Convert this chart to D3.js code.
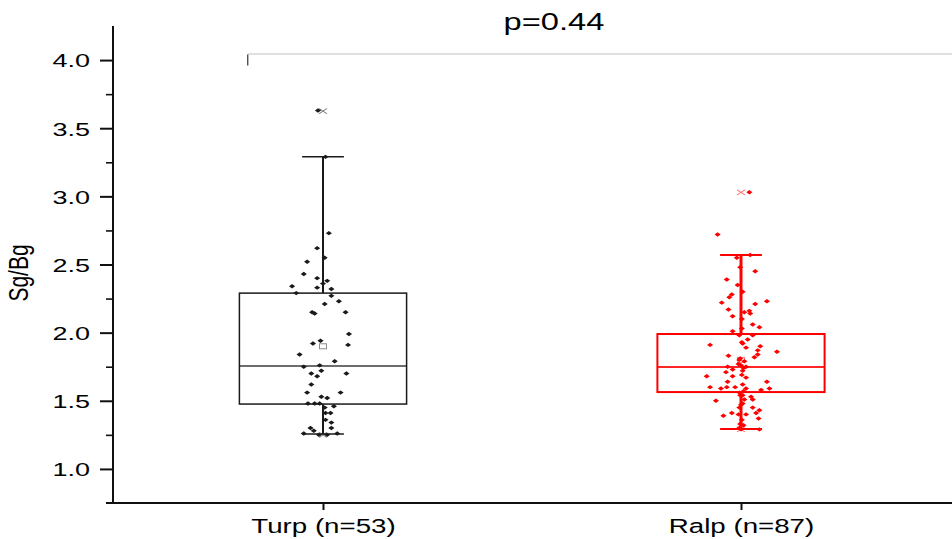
<!DOCTYPE html>
<html>
<head>
<meta charset="utf-8">
<script src="https://cdn.jsdelivr.net/npm/d3@7"></script>
<style>
  html, body { margin: 0; padding: 0; background: #fff; }
  svg { display: block; }
  text { font-family: "Liberation Sans", Arial, sans-serif; fill: #000; }
</style>
</head>
<body>
<div class="display"></div>
<script>
// groups on the x axis
const categories = ["Turp (n=53)", "Ralp (n=87)"];

// y axis ticks
const majorTicks = [1.0, 1.5, 2.0, 2.5, 3.0, 3.5, 4.0];
const minorTicks = [1.25, 1.75, 2.25, 2.75, 3.25, 3.75];

// box statistics (Turp, Ralp)
const q1Values = [1.476, 1.564];
const medianValues = [1.755, 1.748];
const q3Values = [2.29, 1.99];
const whiskerLow = [1.256, 1.293];
const whiskerHigh = [3.29, 2.569];
const meanValues = [1.90, 1.80];
const minValues = [1.25, 1.29];
const maxValues = [3.626, 3.029];

// p value of the comparison
const pLabel = "p=0.44";

// Turp raw points and their jitter (fraction of half box width)
const turpValues = [2.73, 2.62, 2.55, 2.52, 2.43, 2.40, 2.38, 2.36, 2.34, 2.33,
  2.32, 2.29, 2.27, 2.23, 2.21, 2.15, 2.15, 2.14, 1.99, 1.94,
  1.92, 1.91, 1.84, 1.79, 1.75, 1.76, 1.72, 1.70, 1.68, 1.70,
  1.62, 1.56, 1.56, 1.53, 1.52, 1.48, 1.48, 1.48, 1.46, 1.45,
  1.41, 1.41, 1.36, 1.34, 1.30, 1.30, 1.28, 1.26, 1.25, 1.26,
  3.29, 3.63, 1.25];
const turpJitter = [0.07, -0.07, 0.02, -0.19, -0.23, -0.07, 0.05, 0.00, -0.37, -0.07,
  0.10, -0.32, 0.10, 0.19, 0.02, 0.27, -0.13, -0.10, 0.31, -0.03,
  -0.12, 0.30, -0.28, 0.14, -0.23, -0.04, -0.02, -0.14, -0.07, 0.28,
  -0.14, -0.19, 0.21, -0.02, 0.05, -0.18, -0.10, -0.04, 0.13, 0.02,
  0.03, 0.09, 0.03, 0.10, 0.10, -0.15, -0.11, -0.23, 0.05, 0.17,
  0.03, -0.06, -0.05];

// Ralp raw points and their jitter
const ralpValues = [2.72, 2.57, 2.55, 2.45, 2.39, 2.35, 2.28, 2.26, 2.22, 2.21,
  2.23, 2.17, 2.15, 2.16, 2.14, 2.12, 2.06, 2.04, 2.03,
  2.01, 1.98, 1.95, 1.93, 1.91, 1.89, 1.90, 1.87, 1.86, 1.84,
  1.83, 1.82, 1.81, 1.79, 1.77, 1.75, 1.76, 1.75, 1.71, 1.73,
  1.72, 1.68, 1.68, 1.67, 1.64, 1.64, 1.60, 1.59, 1.60, 1.60,
  1.59, 1.58, 1.59, 1.56, 1.54, 1.53, 1.50, 1.51, 1.51, 1.47,
  1.45, 1.43, 1.41, 1.39, 1.41, 1.40, 1.40, 1.37, 1.33, 1.32,
  1.29, 1.29, 3.03,
  1.36, 1.45, 1.48, 1.54, 1.62, 1.69, 1.80, 2.10, 2.30, 2.48,
  1.30, 1.57, 1.74, 1.98, 1.92];
const ralpJitter = [-0.28, 0.11, -0.05, 0.17, -0.17, -0.04, -0.11, -0.14, -0.23, 0.17,
  0.31, -0.15, 0.04, 0.10, 0.11, -0.10, 0.14, 0.22, 0.01,
  -0.10, 0.14, 0.08, 0.01, -0.37, 0.06, 0.23, 0.20, 0.43, 0.20,
  -0.15, 0.16, -0.01, 0.04, -0.03, -0.16, 0.00, 0.06, -0.18, -0.10,
  0.02, -0.41, -0.10, 0.06, -0.16, 0.31, -0.37, -0.24, -0.17, -0.07,
  0.06, 0.24, 0.34, -0.02, 0.02, 0.12, -0.30, 0.04, 0.14, 0.00,
  0.14, 0.22, 0.18, -0.21, -0.11, -0.03, 0.06, 0.21, -0.01, 0.03,
  0.00, 0.22, 0.10,
  0.01, -0.02, 0.02, -0.01, 0.02, 0.01, -0.02, 0.01, 0.02, -0.01,
  -0.02, 0.03, 0.03, -0.02, 0.02];

const colors = ["#1a1a1a", "#ff0000"];

// the source picture is squeezed sideways, so text is stretched to match
const stretch = 1.42;

const width = 952, height = 539;
const margin = { top: 26, right: 0, bottom: 36, left: 113 };

const svg = d3.select(".display")
  .append("svg")
  .attr("width", width)
  .attr("height", height);

// scales
const xScale = d3.scalePoint()
  .domain(categories)
  .range([margin.left + 1, width - 2])
  .padding(0.5);

const yScale = d3.scaleLinear()
  .domain([0.75, 4.25])
  .range([height - margin.bottom, margin.top]);

const boxWidth = xScale.step() * 0.4;
const capWidth = boxWidth * 0.25;

// y axis, major ticks with labels
const yAxis = d3.axisLeft(yScale)
  .tickValues(majorTicks)
  .tickSize(13)
  .tickSizeOuter(0)
  .tickFormat(d3.format(".1f"));
const yAxisGroup = svg.append("g")
  .attr("transform", `translate(${margin.left},0)`)
  .call(yAxis);
yAxisGroup.select(".domain").remove();
yAxisGroup.selectAll("line").attr("stroke", "#111").attr("stroke-width", 2);
yAxisGroup.selectAll("text")
  .attr("x", 0)
  .attr("dy", "0.36em")
  .attr("transform", `translate(-23,0) scale(${stretch},1)`)
  .style("font-size", "19px")
  .style("font-family", "Liberation Sans, Arial, sans-serif")
  .attr("fill", "#000");

// y axis minor ticks
const yMinor = svg.append("g")
  .attr("transform", `translate(${margin.left},0)`)
  .call(d3.axisLeft(yScale).tickValues(minorTicks).tickSize(7).tickSizeOuter(0).tickFormat(""));
yMinor.select(".domain").remove();
yMinor.selectAll("line").attr("stroke", "#111").attr("stroke-width", 1.6);

// x axis ticks and labels
const xAxis = d3.axisBottom(xScale).tickSize(7).tickSizeOuter(0);
const xAxisGroup = svg.append("g")
  .attr("transform", `translate(0,${height - margin.bottom})`)
  .call(xAxis);
xAxisGroup.select(".domain").remove();
xAxisGroup.selectAll("line").attr("stroke", "#111").attr("stroke-width", 2);
xAxisGroup.selectAll("text")
  .attr("y", 0)
  .attr("dy", 0)
  .attr("transform", `translate(0,30) scale(${stretch},1)`)
  .style("font-size", "19.5px")
  .style("font-family", "Liberation Sans, Arial, sans-serif")
  .attr("fill", "#000");

// axis lines
svg.append("line")
  .attr("x1", margin.left).attr("x2", margin.left)
  .attr("y1", yScale.range()[1]).attr("y2", yScale.range()[0] + 1)
  .attr("stroke", "#111").attr("stroke-width", 2);
svg.append("line")
  .attr("x1", margin.left - 7).attr("x2", width)
  .attr("y1", yScale.range()[0]).attr("y2", yScale.range()[0])
  .attr("stroke", "#111").attr("stroke-width", 2);

// y axis title
svg.append("text")
  .attr("transform", `translate(28,273) scale(1.3,1) rotate(-90)`)
  .attr("text-anchor", "middle")
  .style("font-size", "21px")
  .text("Sg/Bg");

// significance bracket and p value
const bracketLeft = xScale(categories[0]) - boxWidth * 0.45;
svg.append("line")
  .attr("x1", bracketLeft).attr("x2", width)
  .attr("y1", yScale(4.045)).attr("y2", yScale(4.045))
  .attr("stroke", "#d6d6d6").attr("stroke-width", 1.5);
svg.append("line")
  .attr("x1", bracketLeft).attr("x2", bracketLeft)
  .attr("y1", yScale(4.04)).attr("y2", yScale(3.96))
  .attr("stroke", "#333").attr("stroke-width", 1.2);
svg.append("text")
  .attr("transform", `translate(554,30) scale(${stretch},1)`)
  .attr("text-anchor", "middle")
  .style("font-size", "23px")
  .text(pLabel);

// one group per category
const groups = categories.map((c, i) => ({
  name: c,
  color: colors[i],
  q1: q1Values[i], median: medianValues[i], q3: q3Values[i],
  lo: whiskerLow[i], hi: whiskerHigh[i], mean: meanValues[i],
  min: minValues[i], max: maxValues[i],
  thick: i === 0 ? 1.5 : 2,
  whiskerThick: i === 0 ? 2 : 3,
  values: i === 0 ? turpValues : ralpValues,
  jitter: i === 0 ? turpJitter : ralpJitter
}));

const g = svg.selectAll(".group").data(groups).enter()
  .append("g").attr("class", "group");

// whiskers
g.append("line")
  .attr("x1", d => xScale(d.name)).attr("x2", d => xScale(d.name))
  .attr("y1", d => yScale(d.hi)).attr("y2", d => yScale(d.q3))
  .attr("stroke", d => d.color).attr("stroke-width", d => d.whiskerThick);
g.append("line")
  .attr("x1", d => xScale(d.name)).attr("x2", d => xScale(d.name))
  .attr("y1", d => yScale(d.q1)).attr("y2", d => yScale(d.lo))
  .attr("stroke", d => d.color).attr("stroke-width", d => d.whiskerThick);
["hi", "lo"].forEach(k => {
  g.append("line")
    .attr("x1", d => xScale(d.name) - capWidth / 2)
    .attr("x2", d => xScale(d.name) + capWidth / 2)
    .attr("y1", d => yScale(d[k])).attr("y2", d => yScale(d[k]))
    .attr("stroke", d => d.color).attr("stroke-width", d => d.thick);
});

// box and median
g.append("rect")
  .attr("x", d => xScale(d.name) - boxWidth / 2)
  .attr("y", d => yScale(d.q3))
  .attr("width", boxWidth)
  .attr("height", d => yScale(d.q1) - yScale(d.q3))
  .attr("fill", "none")
  .attr("stroke", d => d.color).attr("stroke-width", d => d.thick);
g.append("line")
  .attr("x1", d => xScale(d.name) - boxWidth / 2)
  .attr("x2", d => xScale(d.name) + boxWidth / 2)
  .attr("y1", d => yScale(d.median)).attr("y2", d => yScale(d.median))
  .attr("stroke", d => d.color).attr("stroke-width", d => d.thick)
  .attr("stroke-opacity", 0.85);

// mean marker
g.append("rect")
  .attr("x", d => xScale(d.name) - 3.5)
  .attr("y", d => yScale(d.mean) - 2.5)
  .attr("width", 7).attr("height", 5)
  .attr("fill", "none")
  .attr("stroke", d => d.color).attr("stroke-opacity", 0.5).attr("stroke-width", 1);

// min / max cross markers
const cross = d3.symbol(d3.symbolX, 30);
["min", "max"].forEach(k => {
  g.append("path")
    .attr("d", cross)
    .attr("transform", d => `translate(${xScale(d.name)},${yScale(d[k])}) scale(1.2,0.8)`)
    .attr("fill", "none")
    .attr("stroke", d => d.color).attr("stroke-opacity", 0.6).attr("stroke-width", 1);
});

// jittered raw points
const diamond = d3.symbol(d3.symbolSquare, 12);
g.selectAll(".pt")
  .data(d => d.values.map((v, i) => ({ v, j: d.jitter[i], name: d.name, color: d.color })))
  .enter()
  .append("path")
  .attr("class", "pt")
  .attr("d", diamond)
  .attr("transform", d => `translate(${xScale(d.name) + d.j * boxWidth / 2},${yScale(d.v)}) scale(1.25,0.9) rotate(45)`)
  .attr("fill", d => d.color);
</script>
</body>
</html>
